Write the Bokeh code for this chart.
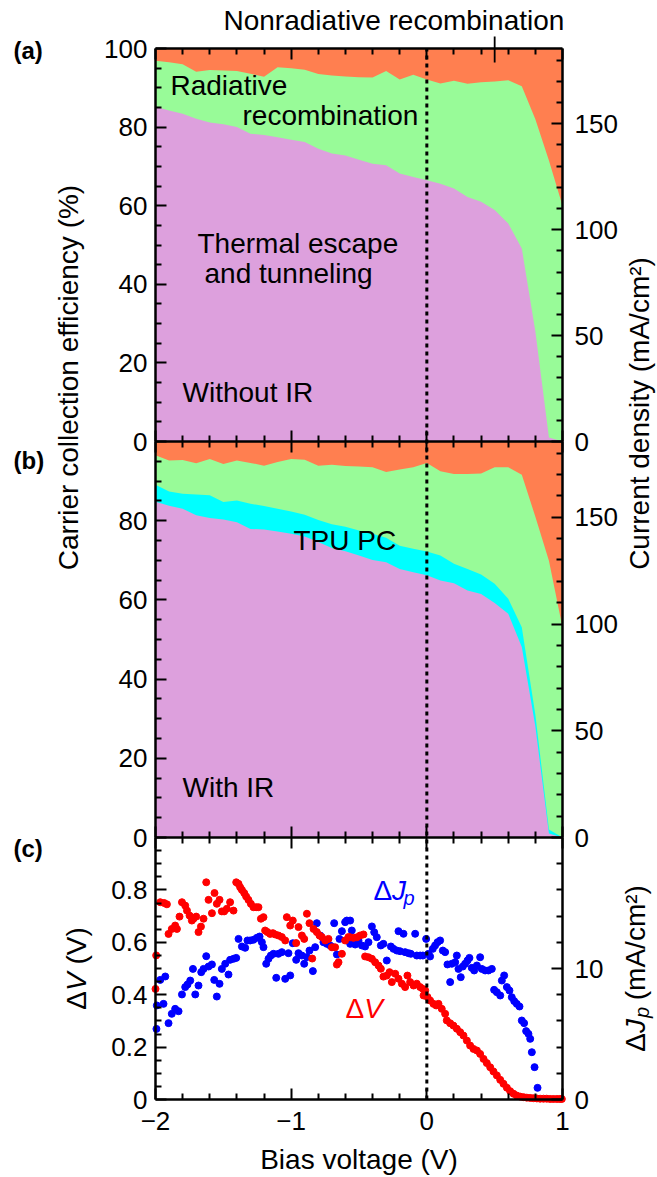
import numpy as np
from bokeh.plotting import figure
from bokeh.models import (Range1d, LinearAxis, FixedTicker, Label,
                          CustomJSTickFormatter, BasicTickFormatter)
from bokeh.embed import file_html
from bokeh.resources import INLINE

# ---------------------------------------------------------------- data
bias = [-2.0, -1.9, -1.8, -1.7, -1.6, -1.5, -1.4, -1.3, -1.2, -1.1, -1.0,
        -0.9, -0.8, -0.7, -0.6, -0.5, -0.4, -0.3, -0.2, -0.1, 0.0,
        0.1, 0.2, 0.3, 0.4, 0.5, 0.6, 0.7, 0.8, 0.9, 1.0]

# (a) without IR : cumulative boundaries (%)
thermal_a = [85.2, 84.2, 83.4, 82.1, 81.2, 80.7, 80.0, 78.3, 78.0, 77.4, 76.8,
             76.2, 74.5, 73.3, 72.8, 71.7, 70.7, 70.3, 68.2, 67.3, 66.5,
             65.6, 64.4, 62.2, 61.0, 58.9, 55.5, 49.1, 28.0, 1.0, 0.0]
radiative_a = [96.9, 96.5, 96.0, 94.1, 94.5, 94.4, 94.3, 93.6, 92.8, 95.2, 95.0,
               94.6, 93.5, 93.1, 92.9, 92.7, 92.6, 94.3, 92.1, 93.3, 92.1,
               91.1, 91.8, 91.0, 91.4, 91.6, 91.9, 90.4, 82.0, 71.5, 60.0]

# (b) with IR : cumulative boundaries (%)
thermal_b = [84.8, 83.8, 83.0, 81.4, 80.7, 80.3, 79.6, 77.9, 77.8, 77.3, 76.7,
             76.0, 74.6, 73.1, 72.3, 71.2, 70.1, 69.5, 67.8, 67.0, 66.2,
             64.9, 64.2, 62.4, 61.5, 59.2, 56.5, 48.1, 28.0, 1.0, 0.0]
tpu_b = [89.1, 87.4, 86.8, 86.6, 86.4, 84.7, 85.1, 84.3, 83.7, 83.0, 82.3,
         81.5, 80.2, 79.1, 78.5, 77.5, 76.7, 75.7, 73.7, 72.9, 72.2,
         71.2, 69.1, 67.8, 66.4, 64.1, 60.3, 53.1, 31.0, 2.0, 0.0]
radiative_b = [96.5, 95.2, 95.3, 94.5, 95.6, 94.3, 95.2, 94.6, 93.9, 94.8, 95.6,
               95.4, 93.9, 94.1, 93.8, 93.7, 93.5, 92.3, 92.9, 93.5, 94.6,
               92.5, 91.8, 91.8, 91.9, 93.5, 93.5, 91.6, 81.0, 69.9, 53.0]

# (c) Delta V (V) vs bias
delta_v_points = [
    (-2.000, 0.422), (-1.995, 0.550), (-1.965, 0.753), (-1.936, 0.750), (-1.916, 0.745),
    (-1.904, 0.632), (-1.880, 0.651), (-1.855, 0.664), (-1.842, 0.651), (-1.823, 0.698),
    (-1.805, 0.753), (-1.781, 0.740), (-1.768, 0.721), (-1.749, 0.702), (-1.732, 0.683),
    (-1.720, 0.690), (-1.700, 0.698), (-1.683, 0.639), (-1.665, 0.660), (-1.646, 0.690),
    (-1.626, 0.829), (-1.609, 0.762), (-1.584, 0.711), (-1.565, 0.788), (-1.548, 0.747),
    (-1.528, 0.762), (-1.511, 0.718), (-1.494, 0.718), (-1.474, 0.728), (-1.450, 0.753),
    (-1.425, 0.721), (-1.405, 0.829), (-1.388, 0.823), (-1.376, 0.810), (-1.363, 0.800),
    (-1.346, 0.788), (-1.332, 0.775), (-1.315, 0.762), (-1.297, 0.747), (-1.278, 0.734),
    (-1.258, 0.734), (-1.241, 0.734), (-1.223, 0.690), (-1.204, 0.696), (-1.192, 0.645),
    (-1.175, 0.639), (-1.155, 0.632), (-1.135, 0.635), (-1.118, 0.630), (-1.094, 0.626),
    (-1.069, 0.620), (-1.044, 0.607), (-1.032, 0.696), (-1.007, 0.664), (-0.988, 0.683),
    (-0.963, 0.597), (-0.946, 0.658), (-0.921, 0.626), (-0.904, 0.613), (-0.884, 0.709),
    (-0.865, 0.673), (-0.845, 0.538), (-0.835, 0.651), (-0.811, 0.639), (-0.791, 0.626),
    (-0.774, 0.620), (-0.749, 0.607), (-0.725, 0.613), (-0.700, 0.581), (-0.676, 0.581),
    (-0.663, 0.515), (-0.651, 0.524), (-0.626, 0.556), (-0.602, 0.607), (-0.578, 0.620),
    (-0.565, 0.619), (-0.541, 0.617), (-0.516, 0.619), (-0.492, 0.626), (-0.467, 0.630),
    (-0.455, 0.546), (-0.430, 0.543), (-0.405, 0.537), (-0.381, 0.524), (-0.356, 0.511),
    (-0.339, 0.499), (-0.320, 0.469), (-0.295, 0.473), (-0.275, 0.486), (-0.258, 0.448),
    (-0.233, 0.480), (-0.209, 0.461), (-0.184, 0.442), (-0.160, 0.429), (-0.143, 0.473),
    (-0.123, 0.448), (-0.098, 0.435), (-0.074, 0.442), (-0.049, 0.429), (-0.029, 0.422),
    (-0.024, 0.397), (-0.012, 0.416), (0.005, 0.391), (0.024, 0.378), (0.049, 0.365),
    (0.069, 0.359), (0.086, 0.365), (0.110, 0.346), (0.135, 0.327), (0.147, 0.302),
    (0.172, 0.291), (0.196, 0.282), (0.221, 0.270), (0.246, 0.257), (0.270, 0.244),
    (0.295, 0.225), (0.319, 0.206), (0.344, 0.193), (0.369, 0.187), (0.393, 0.174),
    (0.418, 0.155), (0.442, 0.139), (0.467, 0.123), (0.491, 0.107), (0.516, 0.092),
    (0.541, 0.075), (0.565, 0.060), (0.590, 0.045), (0.614, 0.032), (0.639, 0.022),
    (0.663, 0.015), (0.688, 0.011), (0.713, 0.009), (0.737, 0.007), (0.762, 0.006),
    (0.786, 0.005), (0.811, 0.004), (0.835, 0.003), (0.860, 0.003), (0.884, 0.003),
    (0.909, 0.002), (0.933, 0.002), (0.958, 0.002), (0.980, 0.002), (0.995, 0.002),
]

# (c) Delta J_p (mA/cm^2) vs bias
delta_j_points = [
    (-1.993, 5.39), (-1.990, 7.18), (-1.965, 9.13), (-1.941, 7.30), (-1.928, 9.39),
    (-1.904, 5.83), (-1.880, 6.54), (-1.855, 6.92), (-1.830, 6.74), (-1.805, 8.02),
    (-1.781, 8.58), (-1.764, 8.78), (-1.744, 9.08), (-1.724, 9.97), (-1.707, 8.02),
    (-1.683, 8.70), (-1.663, 9.72), (-1.646, 9.97), (-1.626, 10.94), (-1.609, 10.15),
    (-1.584, 10.31), (-1.567, 9.13), (-1.548, 7.86), (-1.528, 8.83), (-1.511, 9.97),
    (-1.486, 10.36), (-1.462, 9.54), (-1.450, 10.66), (-1.425, 10.74), (-1.405, 10.81),
    (-1.388, 12.26), (-1.363, 11.68), (-1.339, 11.58), (-1.322, 12.14), (-1.302, 12.14),
    (-1.278, 12.19), (-1.253, 12.34), (-1.233, 12.44), (-1.216, 12.01), (-1.204, 11.63),
    (-1.184, 10.36), (-1.167, 10.74), (-1.150, 10.99), (-1.130, 11.12), (-1.110, 9.29),
    (-1.094, 11.12), (-1.069, 11.25), (-1.044, 9.21), (-1.020, 11.17), (-1.007, 9.47),
    (-0.988, 11.93), (-0.963, 10.66), (-0.946, 11.17), (-0.921, 10.99), (-0.904, 10.36),
    (-0.884, 10.87), (-0.865, 11.37), (-0.840, 9.80), (-0.823, 11.63), (-0.811, 13.46),
    (-0.786, 12.52), (-0.762, 12.01), (-0.737, 11.88), (-0.713, 11.76), (-0.693, 11.63),
    (-0.683, 13.46), (-0.663, 11.07), (-0.644, 12.26), (-0.626, 12.85), (-0.602, 13.54),
    (-0.590, 13.66), (-0.565, 13.66), (-0.553, 12.90), (-0.565, 11.88), (-0.528, 11.83),
    (-0.504, 12.14), (-0.479, 11.76), (-0.455, 11.68), (-0.430, 12.01), (-0.405, 13.21),
    (-0.388, 12.77), (-0.369, 12.39), (-0.339, 11.76), (-0.320, 11.88), (-0.295, 10.61),
    (-0.265, 11.68), (-0.246, 11.50), (-0.221, 11.37), (-0.209, 12.85), (-0.197, 11.32),
    (-0.172, 12.65), (-0.160, 11.25), (-0.135, 11.17), (-0.118, 11.12), (-0.086, 12.65),
    (-0.074, 10.99), (-0.049, 10.99), (-0.029, 10.99), (-0.005, 12.26), (0.012, 11.12),
    (0.024, 10.92), (0.044, 11.50), (0.061, 11.76), (0.079, 12.01), (0.098, 12.14),
    (0.118, 11.37), (0.135, 11.25), (0.152, 10.31), (0.172, 8.96), (0.184, 10.36),
    (0.209, 10.48), (0.221, 10.99), (0.233, 9.97), (0.250, 9.34), (0.265, 10.15),
    (0.282, 10.36), (0.300, 10.61), (0.314, 10.81), (0.331, 10.05), (0.349, 9.85),
    (0.369, 10.23), (0.393, 10.86), (0.405, 9.97), (0.430, 9.85), (0.454, 9.85),
    (0.479, 9.97), (0.496, 8.37), (0.516, 8.19), (0.541, 7.94), (0.553, 9.08),
    (0.570, 9.47), (0.590, 8.58), (0.609, 8.32), (0.626, 7.81), (0.644, 7.51),
    (0.663, 7.30), (0.683, 7.10), (0.700, 6.03), (0.717, 5.83), (0.732, 5.22),
    (0.749, 5.01), (0.762, 4.63), (0.774, 3.61), (0.794, 2.47), (0.816, 0.89),
]

x_ticks = [-2, -1, 0, 1]
eff_ticks_a = [0, 20, 40, 60, 80, 100]
eff_ticks_b = [0, 20, 40, 60, 80]
j_ticks = [0, 50, 100, 150]
dv_ticks = [0.0, 0.2, 0.4, 0.6, 0.8]
dj_ticks = [0, 10]
J_FULL = 185.5      # current density (mA/cm2) equivalent to 100 %

# ---------------------------------------------------------------- layout
FONT = "Liberation Sans"
PURPLE, GREEN, ORANGE, CYAN = "#DDA0DD", "#98FB98", "#FF7F50", "#00FFFF"

W, H = 656, 1176                  # canvas (frame covers it entirely)
LEFT, RIGHT = 155, 562            # x = -2 .. 1
TOP_A, AB, BC, BOT_C = 48, 441, 837, 1099   # panel edges (px from top)


def X(px):   # canvas pixel -> x data
    return -2 + (px - LEFT) * 3.0 / (RIGHT - LEFT)


def Y(py):   # canvas pixel -> default y units (px above canvas bottom)
    return H - py


def panel_range(top, bot, vmax):
    span = bot - top
    return Range1d(vmax * (bot - H) / span, vmax * bot / span)


p = figure(width=W, height=H, x_range=Range1d(X(0), X(W)), y_range=Range1d(0, H),
           output_backend="svg", toolbar_location=None, title=None,
           x_axis_location=None, y_axis_location=None,
           min_border_left=0, min_border_right=0,
           min_border_top=0, min_border_bottom=0)
p.extra_y_ranges = {
    "a": panel_range(TOP_A, AB, 100.0),
    "b": panel_range(AB, BC, 100.0),
    "c": panel_range(BC, BOT_C, 1.0),
    "aJ": panel_range(TOP_A, AB, J_FULL),
    "bJ": panel_range(AB, BC, J_FULL),
    "cJ": panel_range(BC, BOT_C, 20.0),
}
p.xgrid.grid_line_color = None
p.ygrid.grid_line_color = None
p.outline_line_color = None
p.background_fill_color = "white"
p.border_fill_color = "white"

# ---------------------------------------------------------------- areas
for name, layers in (("a", [(ORANGE, [100] * len(bias)), (GREEN, radiative_a),
                            (PURPLE, thermal_a)]),
                     ("b", [(ORANGE, [100] * len(bias)), (GREEN, radiative_b),
                            (CYAN, tpu_b), (PURPLE, thermal_b)])):
    for col, top in layers:
        p.varea(x=bias, y1=0, y2=top, fill_color=col, fill_alpha=1.0,
                y_range_name=name)

# ---------------------------------------------------------------- scatter
dj_x, dj_v = zip(*delta_j_points)
dv_x, dv_v = zip(*delta_v_points)
p.scatter(list(dj_x), list(dj_v), size=7, color="#0000FF", y_range_name="cJ")
p.scatter(list(dv_x), list(dv_v), size=7, color="#FF0000", y_range_name="c")

# dotted zero-bias line through all panels
p.segment(x0=[0], y0=[Y(BOT_C)], x1=[0], y1=[Y(TOP_A)], line_color="black",
          line_width=3, line_dash="4 4")
# pointer of the "Nonradiative recombination" label
p.segment(x0=[0.5], y0=[Y(36)], x1=[0.5], y1=[Y(62)], line_color="black",
          line_width=1.8)

# ---------------------------------------------------------------- axes


def make_axis(range_name, ticks, minor, fixed, bounds, labels=True,
              tick_in=11, tick_out=0, standoff=8, formatter=None):
    ax = LinearAxis(y_range_name=range_name, fixed_location=fixed, bounds=bounds,
                    ticker=FixedTicker(ticks=ticks, minor_ticks=minor))
    ax.axis_line_color = "black"
    ax.axis_line_width = 2.5
    ax.major_tick_in = tick_in
    ax.major_tick_out = tick_out
    ax.minor_tick_in = 6 if tick_in else 0
    ax.minor_tick_out = 6 if tick_out else 0
    ax.major_tick_line_width = 2
    ax.minor_tick_line_width = 2
    ax.major_tick_line_color = "black"
    ax.minor_tick_line_color = "black"
    if labels:
        ax.major_label_text_font = FONT
        ax.major_label_text_font_size = "26px"
        ax.major_label_text_color = "black"
        ax.major_label_standoff = standoff
    else:
        ax.major_label_text_color = None
    if formatter is not None:
        ax.formatter = formatter
    return ax


eff_minor = [v for v in range(5, 100, 5) if v % 20]
j_minor = [v for v in range(10, 190, 10) if v % 50]
dv_minor = [round(0.05 * k, 2) for k in range(1, 20) if k % 4]
dj_minor = [v for v in range(2, 20, 2) if v % 10]
x_minor = [round(-2 + 0.2 * k, 1) for k in range(1, 15) if k % 5]

p.add_layout(make_axis("a", eff_ticks_a, eff_minor, -2, (0, 100)), "left")
p.add_layout(make_axis("b", eff_ticks_b, eff_minor, -2, (0, 100)), "left")
p.add_layout(make_axis("c", dv_ticks, dv_minor, -2, (0, 1.0),
                       formatter=BasicTickFormatter(precision=1)), "left")
p.add_layout(make_axis("aJ", j_ticks, j_minor, 1, (0, J_FULL), standoff=12), "right")
p.add_layout(make_axis("bJ", j_ticks, j_minor, 1, (0, J_FULL), standoff=12), "right")
p.add_layout(make_axis("cJ", dj_ticks, dj_minor, 1, (0, 20), standoff=12), "right")

p.add_layout(make_axis("a", x_ticks, x_minor, 100, (-2, 1), labels=False), "above")
p.add_layout(make_axis("a", x_ticks, x_minor, 0, (-2, 1), labels=False,
                       tick_out=11), "below")
p.add_layout(make_axis("b", x_ticks, x_minor, 0, (-2, 1), labels=False,
                       tick_out=11), "below")
minus_fmt = CustomJSTickFormatter(
    code="return tick < 0 ? '\\u2212' + (-tick).toString() : tick.toString();")
p.add_layout(make_axis("c", x_ticks, x_minor, 0, (-2, 1), standoff=12,
                       formatter=minus_fmt), "below")

# ---------------------------------------------------------------- texts
VERT = np.pi / 2
BASE_SHIFT = 0.36   # em; Bokeh places the alphabetic baseline this far below the anchor


def label(text, px, py, size=28, style="normal", color="black", align="left",
          baseline="alphabetic", angle=0.0):
    """px, py: wanted baseline position (page pixels) of the text."""
    if baseline == "alphabetic":
        if angle:
            px -= BASE_SHIFT * size
        else:
            py -= BASE_SHIFT * size
    p.add_layout(Label(x=X(px), y=Y(py), text=text, text_font=FONT,
                       text_font_size=f"{size}px", text_font_style=style,
                       text_color=color, text_align=align,
                       text_baseline=baseline, angle=angle))


for tag, py in (("(a)", 50), ("(b)", 460), ("(c)", 848)):
    label(tag, 13, py, size=24, style="bold", baseline="middle")

label("Nonradiative recombination", 223, 30)
label("Radiative", 170, 95)
label("recombination", 242, 125)
label("Thermal escape", 197, 253)
label("and tunneling", 204, 283)
label("Without IR", 182, 402)
label("With IR", 182, 797)
label("TPU PC", 293, 550)

# in-plot labels of panel (c)
label("\u0394", 373, 900, color="#0000FF")
label("J", 391.5, 900, color="#0000FF", style="italic")
label("p", 403, 905, size=20, color="#0000FF", style="italic")
label("\u0394", 345, 1018, color="#FF0000")
label("V", 363.7, 1018, color="#FF0000", style="italic")

# axis titles
label("Carrier collection efficiency (%)", 78, 377, align="center", angle=VERT)
label("Current density (mA/cm\u00b2)", 649, 413, align="center", angle=VERT)
label("\u0394", 86, 1009.3, angle=VERT)
label("V", 86, 990.6, style="italic", angle=VERT)
label("(V)", 86, 964.1, angle=VERT)
label("\u0394", 645, 1051.3, angle=VERT)
label("J", 645, 1032.6, style="italic", angle=VERT)
label("p", 649, 1017.5, size=20, style="italic", angle=VERT)
label("(mA/cm\u00b2)", 645, 999.7, angle=VERT)
label("Bias voltage (V)", 358.5, 1169, align="center")

open("out.html", "w").write(file_html(p, INLINE))
